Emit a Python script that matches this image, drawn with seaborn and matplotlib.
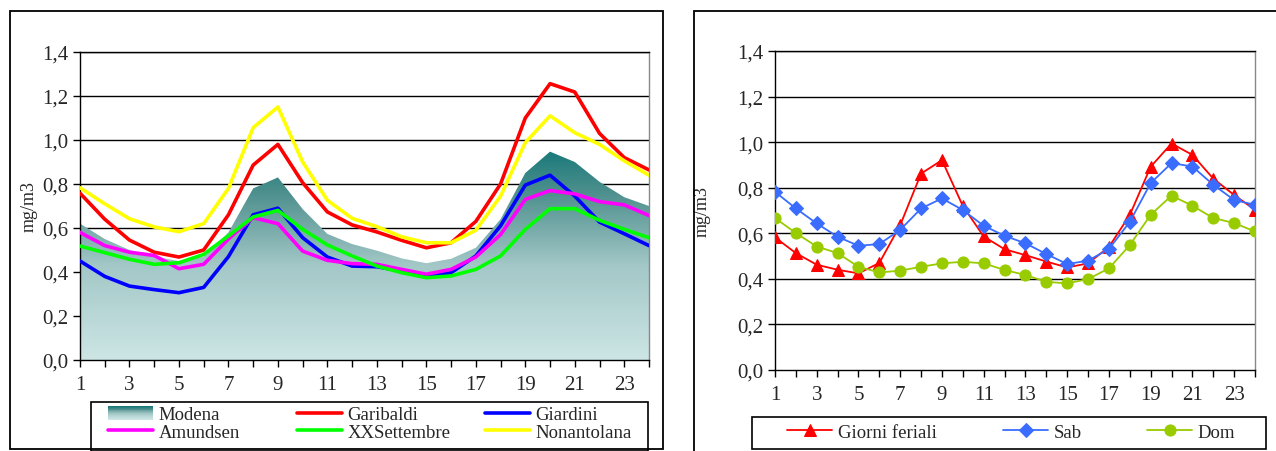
import numpy as np
import pandas as pd
import matplotlib
matplotlib.use("Agg")
import matplotlib.pyplot as plt
import seaborn as sns
from matplotlib.colors import LinearSegmentedColormap
from matplotlib.patches import Rectangle, Patch
from matplotlib.lines import Line2D
from matplotlib.legend_handler import HandlerBase
from matplotlib.ticker import FuncFormatter, MultipleLocator

hours = list(range(1, 25))

# left chart: stations
modena = [0.62, 0.55, 0.50, 0.47, 0.45, 0.47, 0.58, 0.78, 0.83, 0.686, 0.573, 0.527,
          0.497, 0.462, 0.44, 0.46, 0.51, 0.64, 0.85, 0.947, 0.90, 0.81, 0.74, 0.70]
garibaldi = [0.758, 0.64, 0.545, 0.49, 0.468, 0.50, 0.66, 0.886, 0.98, 0.806, 0.673, 0.614,
             0.582, 0.544, 0.51, 0.533, 0.63, 0.80, 1.10, 1.256, 1.218, 1.03, 0.92, 0.864]
giardini = [0.45, 0.38, 0.336, 0.32, 0.306, 0.33, 0.47, 0.66, 0.69, 0.556, 0.468, 0.427,
            0.424, 0.405, 0.377, 0.397, 0.473, 0.61, 0.795, 0.84, 0.745, 0.627, 0.574, 0.52]
amundsen = [0.58, 0.52, 0.49, 0.475, 0.415, 0.435, 0.55, 0.647, 0.62, 0.495, 0.453, 0.438,
            0.435, 0.412, 0.39, 0.412, 0.468, 0.57, 0.73, 0.77, 0.755, 0.72, 0.705, 0.657]
xxsettembre = [0.518, 0.488, 0.458, 0.435, 0.442, 0.48, 0.564, 0.65, 0.68, 0.594, 0.523, 0.473,
               0.427, 0.397, 0.374, 0.382, 0.412, 0.473, 0.594, 0.688, 0.688, 0.635, 0.594, 0.556]
nonantolana = [0.783, 0.71, 0.642, 0.605, 0.583, 0.62, 0.78, 1.056, 1.15, 0.90, 0.726, 0.644,
               0.606, 0.56, 0.533, 0.533, 0.59, 0.745, 0.988, 1.11, 1.033, 0.98, 0.905, 0.84]

# right chart: day types
feriali = [0.582, 0.513, 0.462, 0.44, 0.424, 0.47, 0.636, 0.862, 0.921, 0.72, 0.586, 0.53,
           0.504, 0.476, 0.45, 0.468, 0.54, 0.68, 0.892, 0.994, 0.944, 0.84, 0.768, 0.703]
sab = [0.782, 0.709, 0.643, 0.585, 0.545, 0.553, 0.615, 0.709, 0.753, 0.702, 0.633, 0.589,
       0.556, 0.509, 0.465, 0.48, 0.531, 0.65, 0.82, 0.908, 0.893, 0.813, 0.746, 0.725]
dom = [0.667, 0.601, 0.542, 0.513, 0.453, 0.428, 0.436, 0.453, 0.468, 0.475, 0.468, 0.439,
       0.417, 0.387, 0.38, 0.399, 0.446, 0.548, 0.681, 0.765, 0.721, 0.667, 0.645, 0.608]

sns.set_style("white")
plt.rcParams["font.family"] = ["Liberation Serif", "DejaVu Serif"]

W, H = 1276, 452
fig = plt.figure(figsize=(W / 100, H / 100), dpi=100)


def px(x0, y0, x1, y1):
    return [x0 / W, 1 - y1 / H, (x1 - x0) / W, (y1 - y0) / H]


def frame(x0, y0, x1, y1, lw):
    b = px(x0, y0, x1, y1)
    fig.patches.append(Rectangle((b[0], b[1]), b[2], b[3], transform=fig.transFigure,
                                 facecolor="none", edgecolor="black", linewidth=lw, zorder=0))


# panel frames
frame(10, 12, 663, 450, 1.3)
frame(694, 12, 1285, 460, 1.3)

comma = FuncFormatter(lambda v, p: f"{v:.1f}".replace(".", ","))

cmap = LinearSegmentedColormap.from_list("teal", [(0.0, "#cde5e5"), (0.45, "#a3c8c7"),
                                                   (0.8, "#4e908e"), (1.0, "#1a7a7a")])


class GradHandler(HandlerBase):
    def create_artists(self, legend, orig_handle, xdescent, ydescent, width, height,
                       fontsize, trans):
        n = 16
        arts = []
        for i in range(n):
            r = Rectangle((-xdescent, -ydescent + height * i / n), width, height / n + 0.3,
                          facecolor=cmap(i / (n - 1)), edgecolor="none", transform=trans)
            arts.append(r)
        return arts


def style_axes(ax):
    ax.set_xlim(1, 24)
    ax.set_ylim(0, 1.4)
    ax.yaxis.set_major_locator(MultipleLocator(0.2))
    ax.yaxis.set_major_formatter(comma)
    ax.set_xticks(hours)
    ax.set_xticklabels([str(h) if h % 2 == 1 else "" for h in hours])
    ax.tick_params(axis="both", direction="out", length=5, width=1, color="black",
                   labelsize=15, bottom=True, left=True)
    ax.tick_params(axis="x", pad=6)
    for yv in np.arange(0.2, 1.41, 0.2):
        ax.axhline(yv, color="black", linewidth=1.0, zorder=0.5)
    for side in ["left", "bottom", "top"]:
        ax.spines[side].set_color("black")
    ax.spines["right"].set_color("#888888")
    for s in ax.spines.values():
        s.set_linewidth(1.0)
    ax.set_ylabel("mg/m3", fontsize=13)
    ax.set_xlabel("")


def column_legend(handles, labels, x, yc, fs, hl, hmap=None):
    leg = fig.legend(handles, labels, loc="center left", bbox_to_anchor=(x / W, 1 - yc / H),
                     fontsize=fs, frameon=False, borderpad=0, borderaxespad=0,
                     labelspacing=0.0, handlelength=hl, handletextpad=0.3,
                     handler_map=hmap)
    return leg


# ---- left chart ----
ax1 = fig.add_axes(px(80, 53, 649, 361))
top = max(modena)
grad = np.linspace(0, 1, 256).reshape(-1, 1)
poly = ax1.fill_between(hours, modena, 0, color="none", zorder=1)
img = ax1.imshow(grad, cmap=cmap, origin="lower", aspect="auto",
                 extent=[1, 24, 0, top], zorder=1)
img.set_clip_path(poly.get_paths()[0], transform=ax1.transData)

lines_left = [("Garibaldi", garibaldi, "#ff0000"), ("Giardini", giardini, "#0000ff"),
              ("Amundsen", amundsen, "#ff00ff"), ("XXSettembre", xxsettembre, "#00ff00"),
              ("Nonantolana", nonantolana, "#ffff00")]
for name, vals, col in lines_left:
    sns.lineplot(x=hours, y=vals, color=col, linewidth=2.6, ax=ax1, zorder=3)
style_axes(ax1)
ax1.yaxis.set_label_coords(-0.075, 0.5)

handles = {name: Line2D([], [], color=col, linewidth=2.6) for name, vals, col in lines_left}
handles["Modena"] = Patch(facecolor="#5f9e9c")
frame(91, 403, 648, 452, 1.2)
cols_left = [(108, ["Modena", "Amundsen"]), (297, ["Garibaldi", "XXSettembre"]),
             (485, ["Giardini", "Nonantolana"])]
for x, names in cols_left:
    column_legend([handles[n] for n in names], names, x, 424.5, 13.5, 2.4,
                  {Patch: GradHandler()})

# ---- right chart ----
ax2 = fig.add_axes(px(775, 52, 1255, 371))
lines_right = [("Giorni feriali", feriali, "#ff0000", "^", 9),
               ("Sab", sab, "#3a6dff", "D", 7),
               ("Dom", dom, "#99cc00", "o", 8)]
for name, vals, col, mk, ms in lines_right:
    sns.lineplot(x=hours, y=vals, color=col, linewidth=1.3, marker=mk, markersize=ms,
                 markeredgecolor=col, ax=ax2, zorder=3, label=name)
style_axes(ax2)
ax2.yaxis.set_label_coords(-0.135, 0.5)
h2, l2 = ax2.get_legend_handles_labels()
ax2.get_legend().remove()
frame(752, 418, 1266, 450, 1.2)
for x, hnd, lab in zip([787, 1003, 1147], h2, l2):
    column_legend([hnd], [lab], x, 433, 13.5, 2.4)

fig.savefig("out.png", dpi=100)
